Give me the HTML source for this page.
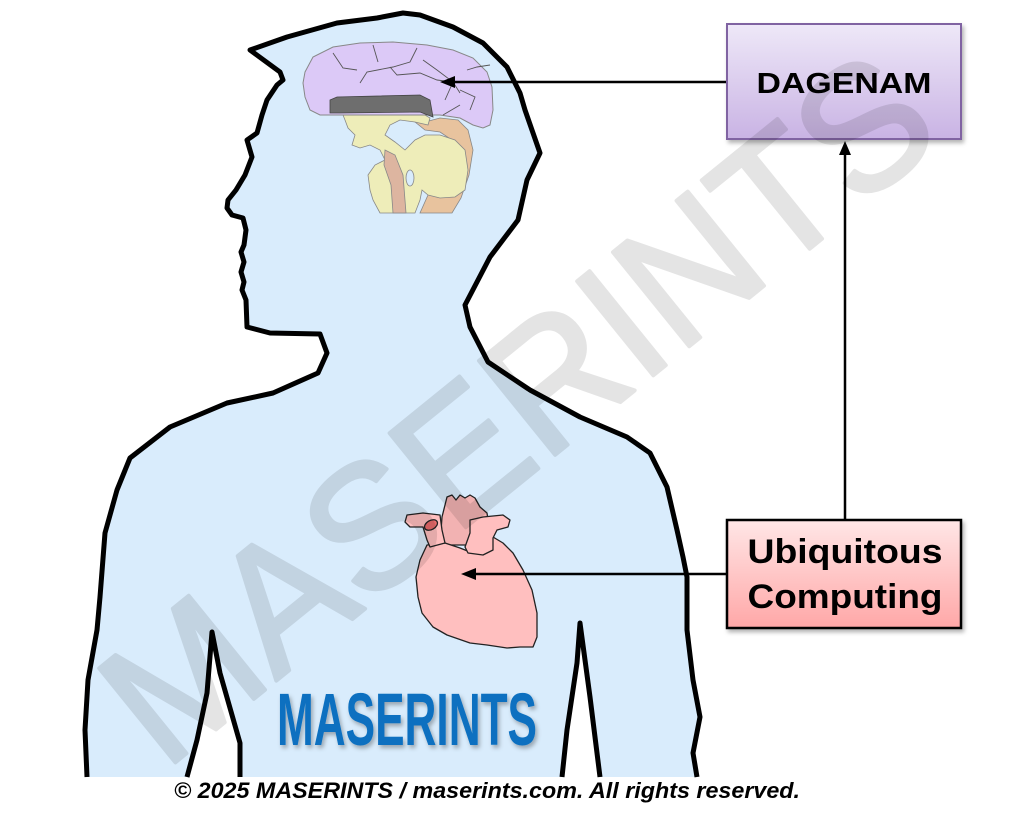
<!DOCTYPE html>
<html>
<head>
<meta charset="utf-8">
<style>
html,body{margin:0;padding:0;background:#fff;}
svg{display:block;}
text{font-family:"Liberation Sans",sans-serif;}
</style>
</head>
<body>
<svg width="1024" height="823" viewBox="0 0 1024 823" xmlns="http://www.w3.org/2000/svg">
<defs>
<linearGradient id="gp" x1="0" y1="0" x2="0" y2="1">
<stop offset="0" stop-color="#eee8f8"/>
<stop offset="1" stop-color="#c9b3e4"/>
</linearGradient>
<linearGradient id="gr" x1="0" y1="0" x2="0" y2="1">
<stop offset="0" stop-color="#ffe6e6"/>
<stop offset="1" stop-color="#ffa7a7"/>
</linearGradient>
<filter id="sh" x="-10%" y="-10%" width="130%" height="130%">
<feDropShadow dx="2" dy="3" stdDeviation="2" flood-color="#000" flood-opacity="0.3"/>
</filter>
<filter id="ts" x="-10%" y="-20%" width="130%" height="150%">
<feDropShadow dx="2" dy="3" stdDeviation="2" flood-color="#000" flood-opacity="0.3"/>
</filter>
</defs>

<rect width="1024" height="823" fill="#fff"/>

<!-- Body silhouette -->
<path d="M87,777 L85,730 L88,680 L97,630 L100,597 L105,533 L117,490 L130,458 L170,427 L227,403 L273,393 L318,373 L327,353 L320,334 L270,333 L247,327 L246,300 L242,290 L244,282 L241,272 L244,262 L241,252 L244,245 L246,230 L243,218 L232,215 L227,208 L228,200 L236,190 L245,175 L252,157 L247,140 L257,133 L262,115 L267,100 L277,85 L283,80 L280,72 L250,50 L287,37 L337,23 L377,18 L403,13 L420,15 L453,27 L483,43 L507,67 L520,93 L525,110 L540,153 L527,180 L518,220 L490,257 L465,305 L470,327 L488,362 L530,390 L580,417 L627,437 L650,453 L667,487 L677,530 L683,557 L687,577 L687,630 L693,680 L700,717 L693,753 L697,777 Z" fill="#d9ecfc" stroke="none"/>
<path d="M87,777 L85,730 L88,680 L97,630 L100,597 L105,533 L117,490 L130,458 L170,427 L227,403 L273,393 L318,373 L327,353 L320,334 L270,333 L247,327 L246,300 L242,290 L244,282 L241,272 L244,262 L241,252 L244,245 L246,230 L243,218 L232,215 L227,208 L228,200 L236,190 L245,175 L252,157 L247,140 L257,133 L262,115 L267,100 L277,85 L283,80 L280,72 L250,50 L287,37 L337,23 L377,18 L403,13 L420,15 L453,27 L483,43 L507,67 L520,93 L525,110 L540,153 L527,180 L518,220 L490,257 L465,305 L470,327 L488,362 L530,390 L580,417 L627,437 L650,453 L667,487 L677,530 L683,557 L687,577 L687,630 L693,680 L700,717 L693,753 L697,777" fill="none" stroke="#000" stroke-width="5" stroke-linejoin="round"/>

<!-- armpits -->
<path d="M187,777 L197,740 L207,693 L212,632 L220,673 L240,743 L240,777 Z" fill="#fff"/>
<path d="M187,777 L197,740 L207,693 L212,632 L220,673 L240,743 L240,777" fill="none" stroke="#000" stroke-width="5" stroke-linejoin="round"/>
<path d="M562,777 L567,730 L577,663 L580,623 L590,697 L600,777 Z" fill="#fff"/>
<path d="M562,777 L567,730 L577,663 L580,623 L590,697 L600,777" fill="none" stroke="#000" stroke-width="5" stroke-linejoin="round"/>

<!-- Brain -->
<path d="M410,118 L425,122 L440,118 L458,120 L468,130 L473,150 L469,175 L461,198 L452,213 L420,213 L428,195 L440,190 L455,180 L460,160 L452,140 L440,132 L425,130 Z" fill="#e8c39e" stroke="#888" stroke-width="0.8"/>
<path d="M343,115 L355,113 L372,115 L400,110 L420,112 L430,118 L428,125 L415,122 L400,120 L390,125 L385,135 L395,142 L405,150 L415,140 L425,135 L440,135 L455,140 L465,150 L468,170 L465,190 L455,197 L440,198 L428,195 L422,190 L420,200 L415,213 L380,213 L373,200 L370,190 L368,175 L375,165 L385,160 L380,150 L370,145 L360,148 L352,145 L355,135 L348,128 L345,120 Z" fill="#eeedb9" stroke="#888" stroke-width="0.8"/>
<path d="M385,150 L395,155 L403,175 L406,213 L393,213 L391,185 L384,165 Z" fill="#ddb5a0" stroke="#888" stroke-width="0.8"/>
<ellipse cx="410" cy="178" rx="4" ry="8" fill="#d9ecfc" stroke="#888" stroke-width="0.8"/>
<path d="M305,72 L313,57 L333,47 L360,43 L393,42 L427,45 L453,50 L473,58 L487,72 L492,87 L493,110 L490,125 L483,128 L473,125 L460,118 L440,115 L430,115 L337,115 L320,115 L310,110 L305,97 L303,83 Z" fill="#dcc9f7" stroke="#888" stroke-width="1"/>
<g fill="none" stroke="#555" stroke-width="0.9">
<path d="M333,53 L343,68 L357,70"/>
<path d="M373,45 L378,62"/>
<path d="M417,48 L410,62 L393,67 L367,72 L360,83"/>
<path d="M390,67 L397,75 L420,73 L437,80 L453,82"/>
<path d="M423,60 L437,70 L453,82 L460,93"/>
<path d="M467,70 L477,67 L490,65"/>
<path d="M453,82 L445,100"/>
<path d="M460,90 L475,97 L470,110"/>
<path d="M443,115 L460,105"/>
</g>
<path d="M330,100 L337,97 L420,95 L430,100 L433,117 L420,112 L340,113 L330,113 Z" fill="#6e6e6e" stroke="#444" stroke-width="0.8"/>

<!-- Heart -->
<g stroke="#222" stroke-width="1.3" stroke-linejoin="round" fill="#ffbfbf">
<path d="M440,545 L442,517 L445,505 L447,497 L452,495 L456,500 L460,495 L465,498 L470,495 L475,498 L480,507 L487,513 L490,533 L493,545 Z" fill="#f2b2b2"/>
<path d="M427,545 L420,560 L416,577 L418,597 L422,613 L433,627 L447,635 L470,643 L487,645 L507,648 L520,647 L533,647 L537,637 L537,613 L532,590 L523,570 L513,553 L503,543 L493,537 L480,540 L470,552 L460,548 L445,543 Z"/>
<path d="M470,520 L483,517 L503,515 L510,520 L508,527 L497,530 L493,538 L493,550 L483,555 L468,553 L465,547 L470,533 Z"/>
<path d="M405,522 L407,515 L423,513 L440,515 L442,530 L445,543 L430,547 L427,540 L423,527 L410,527 Z"/>
<ellipse cx="431" cy="525" rx="7" ry="4.5" transform="rotate(-30 431 525)" fill="#e86a6a"/>
</g>

<!-- Connectors -->
<g stroke="#000" stroke-width="2.5" fill="none">
<line x1="727" y1="82" x2="452" y2="82"/>
<line x1="727" y1="574" x2="473" y2="574"/>
<line x1="845" y1="520" x2="845" y2="153"/>
</g>
<polygon points="440,82 455,76 455,88" fill="#000"/>
<polygon points="461,574 476,568 476,580" fill="#000"/>
<polygon points="845,141 839,155 851,155" fill="#000"/>

<!-- Boxes -->
<rect x="727" y="24" width="234" height="115" fill="url(#gp)" stroke="#8064a2" stroke-width="2" filter="url(#sh)"/>
<text x="844" y="93" font-size="29" font-weight="bold" text-anchor="middle" textLength="175" lengthAdjust="spacingAndGlyphs" fill="#000">DAGENAM</text>

<rect x="727" y="520" width="234" height="108" fill="url(#gr)" stroke="#000" stroke-width="2.5" filter="url(#sh)"/>
<text x="845" y="563" font-size="34" font-weight="bold" text-anchor="middle" textLength="195" lengthAdjust="spacingAndGlyphs" fill="#000">Ubiquitous</text>
<text x="845" y="608" font-size="34" font-weight="bold" text-anchor="middle" textLength="195" lengthAdjust="spacingAndGlyphs" fill="#000">Computing</text>

<!-- Blue logo text -->
<text x="277" y="745" font-size="74" font-weight="bold" textLength="260" lengthAdjust="spacingAndGlyphs" fill="#0b70c0" filter="url(#ts)">MASERINTS</text>

<!-- Watermark -->
<g opacity="0.1">
<text transform="translate(515,405) rotate(-39)" x="0" y="64" font-size="176" font-weight="normal" text-anchor="middle" textLength="1006" lengthAdjust="spacingAndGlyphs" fill="#000" stroke="#000" stroke-width="4" stroke-linejoin="round">MASERINTS</text>
</g>

<!-- Copyright -->
<text x="174" y="798" font-size="22" font-weight="bold" font-style="italic" textLength="626" lengthAdjust="spacingAndGlyphs" fill="#000">© 2025 MASERINTS / maserints.com. All rights reserved.</text>
</svg>
</body>
</html>
